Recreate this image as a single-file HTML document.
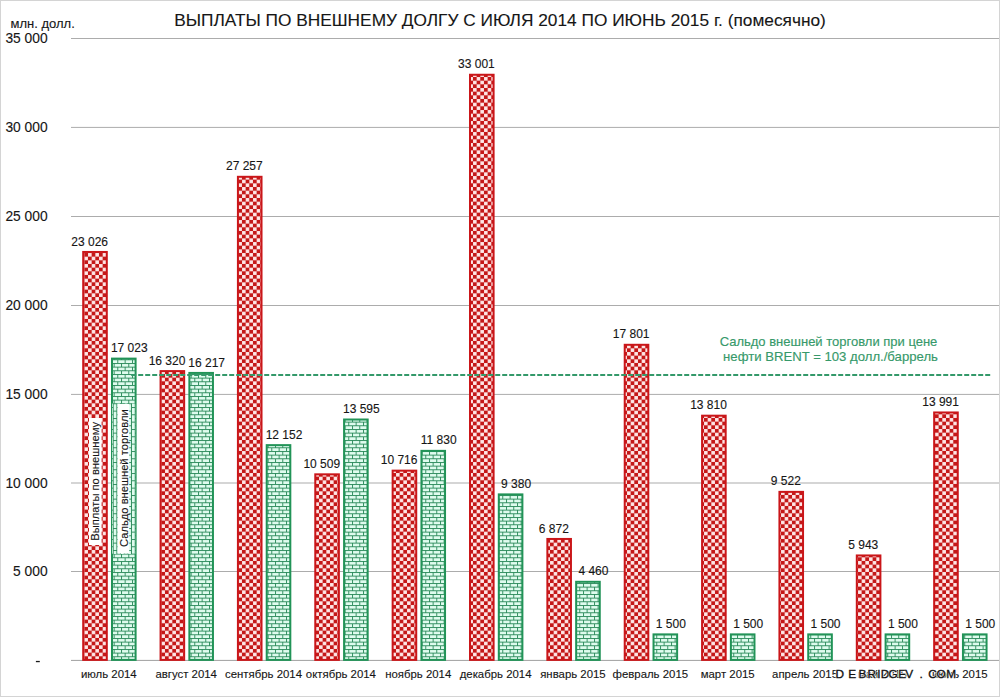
<!DOCTYPE html><html><head><meta charset="utf-8"><style>
html,body{margin:0;padding:0;background:#fff;width:1000px;height:697px;overflow:hidden}
svg{display:block}
text{font-family:"Liberation Sans",sans-serif}
.t{fill:#161616;stroke:#161616;stroke-width:0.12px}
.g{fill:#36996a;stroke:#36996a;stroke-width:0.15px}
</style></head><body>
<svg width="1000" height="697" viewBox="0 0 1000 697">
<defs>
<pattern id="chk" patternUnits="userSpaceOnUse" width="7.333" height="7.333" x="0" y="0">
<rect width="7.333" height="7.333" fill="#c41818"/>
<rect x="3.717" y="0.05" width="3.567" height="3.567" fill="#ffe8e8"/>
<rect x="0.05" y="3.717" width="3.567" height="3.567" fill="#ffe8e8"/>
</pattern>
<pattern id="brk" patternUnits="userSpaceOnUse" width="7.333" height="7.333" x="0" y="0">
<rect width="7.333" height="7.333" fill="#e0fcef"/>
<rect width="7.333" height="0.95" fill="#2e8c5d"/>
<rect y="3.667" width="7.333" height="0.95" fill="#2e8c5d"/>
<rect x="0" y="0" width="0.95" height="3.667" fill="#2e8c5d"/>
<rect x="3.667" y="3.667" width="0.95" height="3.667" fill="#2e8c5d"/>
</pattern>
<pattern id="brkr" patternUnits="userSpaceOnUse" width="7.333" height="7.333" x="0" y="0" patternTransform="rotate(90)">
<rect width="7.333" height="7.333" fill="#e0fcef"/>
<rect width="7.333" height="0.95" fill="#2e8c5d"/>
<rect y="3.667" width="7.333" height="0.95" fill="#2e8c5d"/>
<rect x="0" y="0" width="0.95" height="3.667" fill="#2e8c5d"/>
<rect x="3.667" y="3.667" width="0.95" height="3.667" fill="#2e8c5d"/>
</pattern>
</defs>
<rect x="0" y="0" width="1000" height="697" fill="#fff"/>

<rect x="0.5" y="0.5" width="999" height="696" fill="none" stroke="#d4d4d4" stroke-width="1"/>
<text x="500" y="25.9" text-anchor="middle" font-size="17.3" class="t">ВЫПЛАТЫ ПО ВНЕШНЕМУ ДОЛГУ С ИЮЛЯ 2014 ПО ИЮНЬ 2015 г. (помесячно)</text>
<text x="10.5" y="27.8" font-size="13" class="t">млн. долл.</text>
<rect x="71" y="571.00" width="928" height="1" fill="#acacac"/>
<text x="47.6" y="576.40" text-anchor="end" font-size="13.8" class="t">5 000</text>
<rect x="71" y="482.50" width="928" height="1" fill="#acacac"/>
<text x="47.6" y="487.90" text-anchor="end" font-size="13.8" class="t">10 000</text>
<rect x="71" y="393.90" width="928" height="1" fill="#acacac"/>
<text x="47.6" y="399.30" text-anchor="end" font-size="13.8" class="t">15 000</text>
<rect x="71" y="305.00" width="928" height="1" fill="#acacac"/>
<text x="47.6" y="310.40" text-anchor="end" font-size="13.8" class="t">20 000</text>
<rect x="71" y="216.00" width="928" height="1" fill="#acacac"/>
<text x="47.6" y="221.40" text-anchor="end" font-size="13.8" class="t">25 000</text>
<rect x="71" y="126.90" width="928" height="1" fill="#acacac"/>
<text x="47.6" y="132.30" text-anchor="end" font-size="13.8" class="t">30 000</text>
<rect x="71" y="38.00" width="928" height="1" fill="#acacac"/>
<text x="47.6" y="43.40" text-anchor="end" font-size="13.8" class="t">35 000</text>
<rect x="71" y="659.90" width="928" height="1" fill="#a0a0a0"/>
<rect x="35.9" y="660.9" width="3.9" height="1.3" fill="#1a1a1a"/>
<rect x="83.20" y="251.96" width="23.60" height="407.94" fill="url(#chk)" stroke="#ca1619" stroke-width="2"/>
<rect x="112.00" y="358.61" width="23.60" height="301.29" fill="url(#brk)" stroke="#219357" stroke-width="2"/>
<text x="89.65" y="245.56" text-anchor="middle" font-size="12" class="t">23 026</text>
<text x="129.30" y="352.21" text-anchor="middle" font-size="12" class="t">17 023</text>
<text x="108.80" y="677.6" text-anchor="middle" font-size="11.4" class="t">июль 2014</text>
<rect x="160.56" y="371.10" width="23.60" height="288.80" fill="url(#chk)" stroke="#ca1619" stroke-width="2"/>
<rect x="189.36" y="372.93" width="23.60" height="286.97" fill="url(#brk)" stroke="#219357" stroke-width="2"/>
<text x="167.01" y="364.70" text-anchor="middle" font-size="12" class="t">16 320</text>
<text x="206.66" y="366.53" text-anchor="middle" font-size="12" class="t">16 217</text>
<text x="186.16" y="677.6" text-anchor="middle" font-size="11.4" class="t">август 2014</text>
<rect x="237.92" y="176.80" width="23.60" height="483.10" fill="url(#chk)" stroke="#ca1619" stroke-width="2"/>
<rect x="266.72" y="445.14" width="23.60" height="214.76" fill="url(#brk)" stroke="#219357" stroke-width="2"/>
<text x="244.37" y="170.40" text-anchor="middle" font-size="12" class="t">27 257</text>
<text x="284.02" y="438.74" text-anchor="middle" font-size="12" class="t">12 152</text>
<text x="263.52" y="677.6" text-anchor="middle" font-size="11.4" class="t">сентябрь 2014</text>
<rect x="315.28" y="474.33" width="23.60" height="185.57" fill="url(#chk)" stroke="#ca1619" stroke-width="2"/>
<rect x="344.08" y="419.51" width="23.60" height="240.39" fill="url(#brk)" stroke="#219357" stroke-width="2"/>
<text x="321.73" y="467.93" text-anchor="middle" font-size="12" class="t">10 509</text>
<text x="361.38" y="413.11" text-anchor="middle" font-size="12" class="t">13 595</text>
<text x="340.88" y="677.6" text-anchor="middle" font-size="11.4" class="t">октябрь 2014</text>
<rect x="392.64" y="470.65" width="23.60" height="189.25" fill="url(#chk)" stroke="#ca1619" stroke-width="2"/>
<rect x="421.44" y="450.86" width="23.60" height="209.04" fill="url(#brk)" stroke="#219357" stroke-width="2"/>
<text x="399.09" y="464.25" text-anchor="middle" font-size="12" class="t">10 716</text>
<text x="438.74" y="444.46" text-anchor="middle" font-size="12" class="t">11 830</text>
<text x="418.24" y="677.6" text-anchor="middle" font-size="11.4" class="t">ноябрь 2014</text>
<rect x="470.00" y="74.75" width="23.60" height="585.15" fill="url(#chk)" stroke="#ca1619" stroke-width="2"/>
<rect x="498.80" y="494.39" width="23.60" height="165.51" fill="url(#brk)" stroke="#219357" stroke-width="2"/>
<text x="476.45" y="68.35" text-anchor="middle" font-size="12" class="t">33 001</text>
<text x="516.10" y="487.99" text-anchor="middle" font-size="12" class="t">9 380</text>
<text x="495.60" y="677.6" text-anchor="middle" font-size="11.4" class="t">декабрь 2014</text>
<rect x="547.36" y="538.95" width="23.60" height="120.95" fill="url(#chk)" stroke="#ca1619" stroke-width="2"/>
<rect x="576.16" y="581.80" width="23.60" height="78.10" fill="url(#brk)" stroke="#219357" stroke-width="2"/>
<text x="553.81" y="532.55" text-anchor="middle" font-size="12" class="t">6 872</text>
<text x="593.46" y="575.40" text-anchor="middle" font-size="12" class="t">4 460</text>
<text x="572.96" y="677.6" text-anchor="middle" font-size="11.4" class="t">январь 2015</text>
<rect x="624.72" y="344.79" width="23.60" height="315.11" fill="url(#chk)" stroke="#ca1619" stroke-width="2"/>
<rect x="653.52" y="634.38" width="23.60" height="25.52" fill="url(#brk)" stroke="#219357" stroke-width="2"/>
<text x="631.17" y="338.39" text-anchor="middle" font-size="12" class="t">17 801</text>
<text x="670.82" y="627.98" text-anchor="middle" font-size="12" class="t">1 500</text>
<text x="650.32" y="677.6" text-anchor="middle" font-size="11.4" class="t">февраль 2015</text>
<rect x="702.08" y="415.69" width="23.60" height="244.21" fill="url(#chk)" stroke="#ca1619" stroke-width="2"/>
<rect x="730.88" y="634.38" width="23.60" height="25.52" fill="url(#brk)" stroke="#219357" stroke-width="2"/>
<text x="708.53" y="409.29" text-anchor="middle" font-size="12" class="t">13 810</text>
<text x="748.18" y="627.98" text-anchor="middle" font-size="12" class="t">1 500</text>
<text x="727.68" y="677.6" text-anchor="middle" font-size="11.4" class="t">март 2015</text>
<rect x="779.44" y="491.87" width="23.60" height="168.03" fill="url(#chk)" stroke="#ca1619" stroke-width="2"/>
<rect x="808.24" y="634.38" width="23.60" height="25.52" fill="url(#brk)" stroke="#219357" stroke-width="2"/>
<text x="785.89" y="485.47" text-anchor="middle" font-size="12" class="t">9 522</text>
<text x="825.54" y="627.98" text-anchor="middle" font-size="12" class="t">1 500</text>
<text x="805.04" y="677.6" text-anchor="middle" font-size="11.4" class="t">апрель 2015</text>
<rect x="856.80" y="555.45" width="23.60" height="104.45" fill="url(#chk)" stroke="#ca1619" stroke-width="2"/>
<rect x="885.60" y="634.38" width="23.60" height="25.52" fill="url(#brk)" stroke="#219357" stroke-width="2"/>
<text x="863.25" y="549.05" text-anchor="middle" font-size="12" class="t">5 943</text>
<text x="902.90" y="627.98" text-anchor="middle" font-size="12" class="t">1 500</text>
<text x="882.40" y="677.6" text-anchor="middle" font-size="11.4" class="t">май 2015</text>
<rect x="934.16" y="412.47" width="23.60" height="247.43" fill="url(#chk)" stroke="#ca1619" stroke-width="2"/>
<rect x="962.96" y="634.38" width="23.60" height="25.52" fill="url(#brk)" stroke="#219357" stroke-width="2"/>
<text x="940.61" y="406.07" text-anchor="middle" font-size="12" class="t">13 991</text>
<text x="980.26" y="627.98" text-anchor="middle" font-size="12" class="t">1 500</text>
<text x="959.76" y="677.6" text-anchor="middle" font-size="11.4" class="t">июнь 2015</text>
<line x1="131.2" y1="375" x2="991" y2="375" stroke="#34996a" stroke-width="2" stroke-dasharray="5 2"/>
<text x="828.5" y="346.4" text-anchor="middle" font-size="13" class="g">Сальдо внешней торговли при цене</text>
<text x="830.5" y="361.1" text-anchor="middle" font-size="13.15" class="g">нефти BRENT = 103 долл./баррель</text>
<rect x="89" y="418" width="12.6" height="127" fill="#fff"/>
<text transform="translate(99.2,540.8) rotate(-90)" font-size="11.2" class="t">Выплаты по внешнему</text>
<rect x="112" y="403.6" width="23.5" height="150.4" fill="url(#brkr)"/>
<rect x="117.6" y="404" width="11.6" height="149.5" fill="#fff"/>
<text transform="translate(128.2,547) rotate(-90)" font-size="11.2" class="t">Сальдо внешней торговли</text>
<text x="835.6 848.2 858.4 867.5 877.2 880.8 888.5 898.2 905.2 919.5 928.2 936.5 946.2" y="677.6" font-size="11.8" style="paint-order:stroke;stroke:#fff;stroke-width:1.3px;fill:#111">DEBRIDGEV.COM</text>
<text x="835.6 848.2 858.4 867.5 877.2 880.8 888.5 898.2 905.2 919.5 928.2 936.5 946.2" y="677.6" font-size="11.8" style="fill:none;stroke:#111;stroke-width:0.35px">DEBRIDGEV.COM</text>
</svg></body></html>
